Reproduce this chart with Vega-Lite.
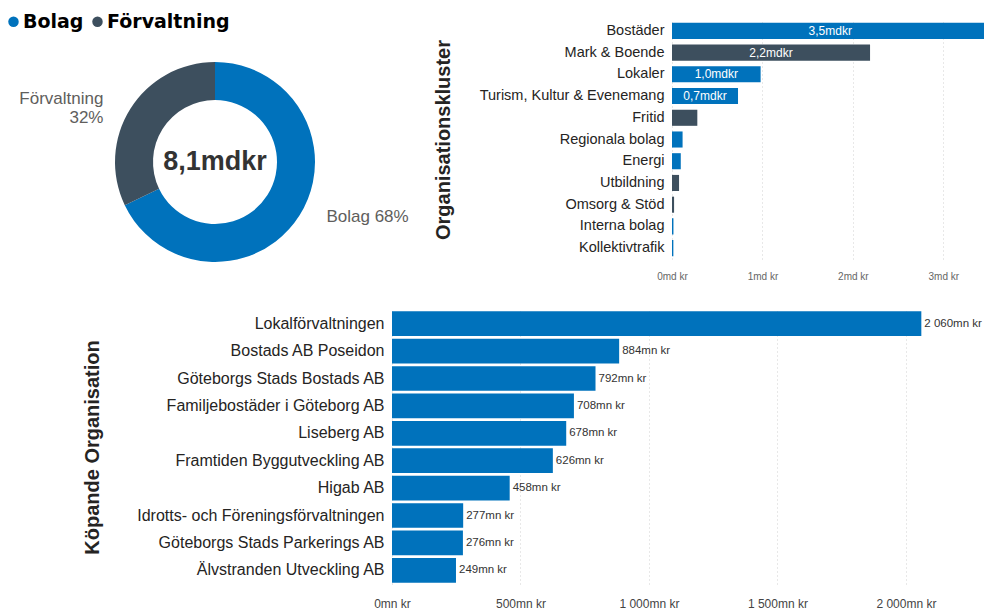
{
  "$schema": "https://vega.github.io/schema/vega-lite/v6.json",
  "padding": {"left": 4, "top": 12, "right": 0, "bottom": 0},
  "config": {"view": {"stroke": null}, "font": "Liberation Sans"},
  "spacing": 6,
  "vconcat": [
    {
      "spacing": 15,
      "hconcat": [
        {
          "width": 406,
          "height": 284,
          "data": {"values": [
            {"type": "Bolag", "value": 5.5, "lbl": "Bolag 68%"},
            {"type": "Förvaltning", "value": 2.6, "lbl": "Förvaltning\n32%"}
          ]},
          "layer": [
            {
              "mark": {"type": "arc", "outerRadius": 100, "innerRadius": 62},
              "encoding": {
                "theta": {"field": "value", "type": "quantitative", "stack": true},
                "order": {"field": "type", "sort": "ascending"},
                "color": {
                  "field": "type", "type": "nominal",
                  "scale": {"domain": ["Bolag", "Förvaltning"], "range": ["#0072BC", "#3D4F5E"]},
                  "legend": {"orient": "none", "legendX": -8, "legendY": -8, "direction": "horizontal", "title": null, "symbolType": "circle", "symbolSize": 110, "symbolStrokeWidth": 0, "labelFont": "DejaVu Sans", "labelFontWeight": "bold", "labelFontSize": 19, "labelColor": "#000000", "labelOffset": 0, "columnPadding": 4}
                }
              }
            },
            {
              "mark": {"type": "text", "radius": 101, "align": "left", "baseline": "middle", "dx": 26, "dy": 1, "fontSize": 17, "color": "#605E5C"},
              "encoding": {
                "theta": {"field": "value", "type": "quantitative", "stack": true},
                "order": {"field": "type", "sort": "ascending"},
                "detail": {"field": "type"},
                "text": {"condition": {"test": "datum.type === 'Bolag'", "field": "lbl"}, "value": ""}
              }
            },
            {
              "mark": {"type": "text", "radius": 120, "align": "right", "baseline": "middle", "dx": -10, "dy": 1, "fontSize": 17, "color": "#605E5C", "lineBreak": "\n"},
              "encoding": {
                "theta": {"field": "value", "type": "quantitative", "stack": true},
                "order": {"field": "type", "sort": "ascending"},
                "detail": {"field": "type"},
                "text": {"condition": {"test": "datum.type === 'Förvaltning'", "field": "lbl"}, "value": ""}
              }
            },
            {
              "data": {"values": [{"total": "8,1mdkr"}]},
              "mark": {"type": "text", "fontSize": 27, "fontWeight": "bold", "color": "#333333", "align": "center", "baseline": "middle"},
              "encoding": {"text": {"field": "total"}}
            }
          ]
        },
        {
          "width": 312,
          "height": 239,
          "data": {"values": [
            {"cluster": "Bostäder", "type": "Bolag", "value": 3.5, "label": "3,5mdkr"},
            {"cluster": "Mark & Boende", "type": "Förvaltning", "value": 2.19, "label": "2,2mdkr"},
            {"cluster": "Lokaler", "type": "Bolag", "value": 0.98, "label": "1,0mdkr"},
            {"cluster": "Turism, Kultur & Evenemang", "type": "Bolag", "value": 0.73, "label": "0,7mdkr"},
            {"cluster": "Fritid", "type": "Förvaltning", "value": 0.28, "label": ""},
            {"cluster": "Regionala bolag", "type": "Bolag", "value": 0.117, "label": ""},
            {"cluster": "Energi", "type": "Bolag", "value": 0.097, "label": ""},
            {"cluster": "Utbildning", "type": "Förvaltning", "value": 0.078, "label": ""},
            {"cluster": "Omsorg & Stöd", "type": "Förvaltning", "value": 0.023, "label": ""},
            {"cluster": "Interna bolag", "type": "Bolag", "value": 0.016, "label": ""},
            {"cluster": "Kollektivtrafik", "type": "Bolag", "value": 0.015, "label": ""}
          ]},
          "encoding": {
            "y": {
              "field": "cluster", "type": "nominal",
              "sort": ["Bostäder", "Mark & Boende", "Lokaler", "Turism, Kultur & Evenemang", "Fritid", "Regionala bolag", "Energi", "Utbildning", "Omsorg & Stöd", "Interna bolag", "Kollektivtrafik"],
              "scale": {"paddingInner": 0.26, "paddingOuter": 0.13},
              "axis": {"title": "Organisationskluster", "titleFontSize": 20, "titleFontWeight": "bold", "titleColor": "#252423", "titlePadding": 26, "labelFontSize": 14.5, "labelColor": "#252423", "labelPadding": 8, "labelLimit": 400, "ticks": false, "domain": false}
            }
          },
          "layer": [
            {
              "mark": {"type": "bar", "clip": true},
              "encoding": {
                "x": {
                  "field": "value", "type": "quantitative",
                  "scale": {"domain": [0, 3.45], "nice": false},
                  "axis": {"title": null, "values": [0, 1, 2, 3], "labelExpr": "datum.value + 'md kr'", "labelFlush": false, "grid": true, "gridDash": [1, 3], "gridColor": "#D0D0D0", "domain": false, "ticks": false, "labelFontSize": 10, "labelColor": "#666666", "labelPadding": 12}
                },
                "color": {
                  "field": "type", "type": "nominal",
                  "scale": {"domain": ["Bolag", "Förvaltning"], "range": ["#0072BC", "#3D4F5E"]},
                  "legend": {"orient": "none", "legendX": -8, "legendY": -8, "direction": "horizontal", "title": null, "symbolType": "circle", "symbolSize": 110, "symbolStrokeWidth": 0, "labelFont": "DejaVu Sans", "labelFontWeight": "bold", "labelFontSize": 19, "labelColor": "#000000", "labelOffset": 0, "columnPadding": 4}
                }
              }
            },
            {
              "mark": {"type": "text", "color": "#FFFFFF", "fontSize": 12, "align": "center", "baseline": "middle"},
              "encoding": {
                "x": {"field": "value", "type": "quantitative", "scale": {"domain": [0, 6.9], "nice": false}, "axis": null},
                "text": {"field": "label"}
              }
            }
          ],
          "resolve": {"scale": {"x": "independent"}}
        }
      ]
    },
    {
      "spacing": 10,
      "hconcat": [
        {
          "width": 60,
          "height": 1,
          "data": {"values": []},
          "mark": "rect"
        },
        {
          "width": 591,
          "height": 274,
          "data": {"values": [
            {"org": "Lokalförvaltningen", "value": 2060, "label": "2 060mn kr"},
            {"org": "Bostads AB Poseidon", "value": 884, "label": "884mn kr"},
            {"org": "Göteborgs Stads Bostads AB", "value": 792, "label": "792mn kr"},
            {"org": "Familjebostäder i Göteborg AB", "value": 708, "label": "708mn kr"},
            {"org": "Liseberg AB", "value": 678, "label": "678mn kr"},
            {"org": "Framtiden Byggutveckling AB", "value": 626, "label": "626mn kr"},
            {"org": "Higab AB", "value": 458, "label": "458mn kr"},
            {"org": "Idrotts- och Föreningsförvaltningen", "value": 277, "label": "277mn kr"},
            {"org": "Göteborgs Stads Parkerings AB", "value": 276, "label": "276mn kr"},
            {"org": "Älvstranden Utveckling AB", "value": 249, "label": "249mn kr"}
          ]},
          "encoding": {
            "y": {
              "field": "org", "type": "nominal",
              "sort": ["Lokalförvaltningen", "Bostads AB Poseidon", "Göteborgs Stads Bostads AB", "Familjebostäder i Göteborg AB", "Liseberg AB", "Framtiden Byggutveckling AB", "Higab AB", "Idrotts- och Föreningsförvaltningen", "Göteborgs Stads Parkerings AB", "Älvstranden Utveckling AB"],
              "scale": {"paddingInner": 0.1, "paddingOuter": 0.05},
              "axis": {"title": "Köpande Organisation", "titleFontSize": 20, "titleFontWeight": "bold", "titleColor": "#252423", "titlePadding": 90, "labelFontSize": 16, "labelColor": "#252423", "labelPadding": 8, "labelLimit": 400, "ticks": false, "domain": false}
            },
            "x": {
              "field": "value", "type": "quantitative",
              "scale": {"domain": [0, 2300], "nice": false},
              "axis": {"title": null, "values": [0, 500, 1000, 1500, 2000], "labelExpr": "replace(format(datum.value, ',d'), ',', ' ') + 'mn kr'", "labelFlush": false, "grid": true, "gridDash": [1, 3], "gridColor": "#D0D0D0", "domain": false, "ticks": false, "labelFontSize": 12, "labelColor": "#444444", "labelPadding": 14}
            }
          },
          "layer": [
            {"mark": {"type": "bar", "color": "#0072BC"}},
            {
              "mark": {"type": "text", "align": "left", "baseline": "middle", "dx": 3, "fontSize": 11.5, "color": "#333333"},
              "encoding": {"text": {"field": "label"}}
            }
          ]
        }
      ]
    }
  ]
}
